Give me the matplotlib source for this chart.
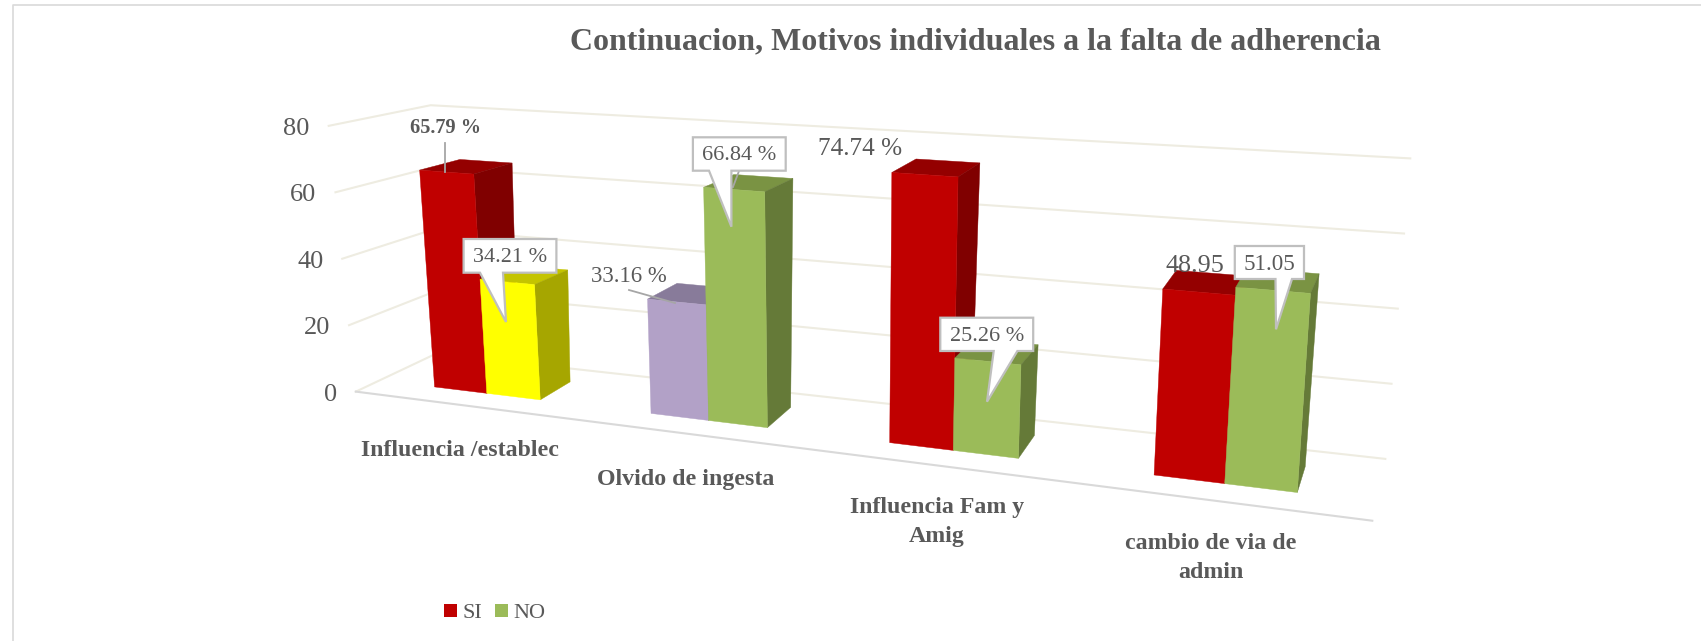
"""Recreate the 3D clustered column chart (Motivos individuales) with a small projection."""

import matplotlib
matplotlib.use("Agg")
import matplotlib.pyplot as plt
from matplotlib.patches import Polygon, Rectangle

categories = ["Influencia /establec", "Olvido de ingesta", "Influencia Fam y\nAmig", "cambio de via de\nadmin"]
si_values = [65.79, 33.16, 74.74, 48.95]
no_values = [34.21, 66.84, 25.26, 51.05]
y_ticks = [0, 20, 40, 60, 80]
si_labels = ["65.79 %", "33.16 %", "74.74 %", "48.95"]
no_labels = ["34.21 %", "66.84 %", "25.26 %", "51.05"]

RED = ("#C00000", "#940000", "#800000")
GREEN = ("#9BBB59", "#7A9343", "#657A38")
YELLOW = ("#FFFF00", "#C4C400", "#A6A600")
PURPLE = ("#B2A1C7", "#887B9A", "#7A6C8A")
GRAY = "#595959"
SERIF = "Liberation Serif"

# cube corners of the plot box, pixels of the picture
SCALE = 1701 / 1568
CORNERS = {
    "fl0": (328, 361), "fl1": (303, 116), "bl0": (402, 326), "bl1": (397, 97),
    "fr0": (1265, 480), "fr1": (1287, 182), "br0": (1277, 423), "br1": (1300, 146),
}
PERSP = 1.227
U0, PITCH = 0.0045, 0.248
Z0, Z1 = 0.30, 0.73
VMAX = 80


def project(u, v, z):
    """u along categories 0-1, v value, z depth 0-1 -> picture pixels."""
    p = u / (u + PERSP * (1 - u))
    t = v / VMAX
    out = []
    for k in range(2):
        front = (1 - p) * ((1 - t) * CORNERS["fl0"][k] + t * CORNERS["fl1"][k]) \
            + p * ((1 - t) * CORNERS["fr0"][k] + t * CORNERS["fr1"][k])
        back = (1 - p) * ((1 - t) * CORNERS["bl0"][k] + t * CORNERS["bl1"][k]) \
            + p * ((1 - t) * CORNERS["br0"][k] + t * CORNERS["br1"][k])
        out.append(((1 - z) * front + z * back) * SCALE)
    return out


def draw_bar(ax, u0, u1, value, colors):
    front, top, side = colors
    faces = [
        (top, [(u0, value, Z0), (u1, value, Z0), (u1, value, Z1), (u0, value, Z1)]),
        (side, [(u1, 0, Z0), (u1, value, Z0), (u1, value, Z1), (u1, 0, Z1)]),
        (front, [(u0, 0, Z0), (u1, 0, Z0), (u1, value, Z0), (u0, value, Z0)]),
    ]
    for color, pts in faces:
        ax.add_patch(Polygon([project(*p) for p in pts], closed=True, facecolor=color,
                             edgecolor=color, linewidth=0.3, zorder=3))


def callout(ax, box, base, tip, text, size=16):
    x0, y0, x1, y1 = box
    pts = [(x0, y0), (x1, y0), (x1, y1), (base[1], y1), tip, (base[0], y1), (x0, y1)]
    ax.add_patch(Polygon(pts, closed=True, facecolor="white", edgecolor="#BFBFBF",
                         linewidth=1.6, zorder=5))
    ax.text((x0 + x1) / 2, (y0 + y1) / 2 + 2, text, ha="center", va="center", fontsize=size,
            color=GRAY, family=SERIF, zorder=6)


fig = plt.figure(figsize=(17.01, 6.41), dpi=100)
ax = fig.add_axes([0, 0, 1, 1])
ax.set_xlim(0, 1701)
ax.set_ylim(641, 0)
ax.axis("off")

# chart frame
ax.plot([13, 13, 1701], [641, 5, 5], color="#D9D9D9", lw=1.2, zorder=1)

# title
ax.text(975, 42, "Continuacion, Motivos individuales a la falta de adherencia", ha="center",
        va="center", fontsize=23, fontweight="bold", color=GRAY, family=SERIF)

# walls and floor
for tick in y_ticks:
    a, b, c = project(0, tick, 0), project(0, tick, 1), project(1, tick, 1)
    ax.plot([a[0], b[0], c[0]], [a[1], b[1], c[1]], color="#EEECE1", lw=1.5, zorder=1)
    ax.text(a[0] - 19, a[1] + 3, str(tick), ha="right", va="center", fontsize=19, color=GRAY, family=SERIF)
a, b = project(0, 0, 0), project(1, 0, 0)
ax.plot([a[0], b[0]], [a[1], b[1]], color="#D9D9D9", lw=1.5, zorder=2)

# columns
for i in range(len(categories)):
    left = U0 + PITCH * (i + 0.25)
    mid = U0 + PITCH * (i + 0.5)
    right = U0 + PITCH * (i + 0.75)
    draw_bar(ax, left, mid, si_values[i], PURPLE if i == 1 else RED)
    draw_bar(ax, mid, right, no_values[i], YELLOW if i == 0 else GREEN)

# plain labels and their leaders
ax.plot([445, 445], [143, 172], color="#A6A6A6", lw=1.3, zorder=4)
ax.plot([629, 675], [290, 303], color="#A6A6A6", lw=1.3, zorder=4)
ax.plot([739, 733], [171, 187], color="#A6A6A6", lw=1.3, zorder=4)
ax.text(445, 128, si_labels[0], ha="center", va="center", fontsize=14.6, fontweight="bold",
        color=GRAY, family=SERIF)
ax.text(629, 276, si_labels[1], ha="center", va="center", fontsize=16.4, color=GRAY, family=SERIF)
ax.text(860, 149, si_labels[2], ha="center", va="center", fontsize=18.2, color=GRAY, family=SERIF)
ax.text(1195, 266, si_labels[3], ha="center", va="center", fontsize=18.8, color=GRAY, family=SERIF)

# callouts
callout(ax, (463.6, 239, 556.4, 272.7), (480, 503), (506, 322), no_labels[0])
callout(ax, (692.9, 137.3, 785.7, 170.7), (709, 731.4), (731.4, 226.7), no_labels[1])
callout(ax, (940.3, 317.7, 1033.2, 351), (993.7, 1017.4), (987, 401.7), no_labels[2])
callout(ax, (1234.8, 246, 1304, 279), (1275.5, 1292), (1276, 329.3), no_labels[3], size=16.6)

# category labels
cat_pos = [(460, 450), (686, 480), (937, 522), (1211, 558)]
for name, (x, y) in zip(categories, cat_pos):
    ax.text(x, y, name, ha="center", va="center", fontsize=17.2, fontweight="bold", color=GRAY,
            family=SERIF, linespacing=1.45)

# legend
ax.add_patch(Rectangle((444, 604), 13, 13, facecolor=RED[0], edgecolor="none"))
ax.text(462, 613, "SI", ha="left", va="center", fontsize=16, color=GRAY, family=SERIF)
ax.add_patch(Rectangle((495, 604), 13, 13, facecolor=GREEN[0], edgecolor="none"))
ax.text(513, 613, "NO", ha="left", va="center", fontsize=16, color=GRAY, family=SERIF)

fig.savefig("out.png", dpi=100)
